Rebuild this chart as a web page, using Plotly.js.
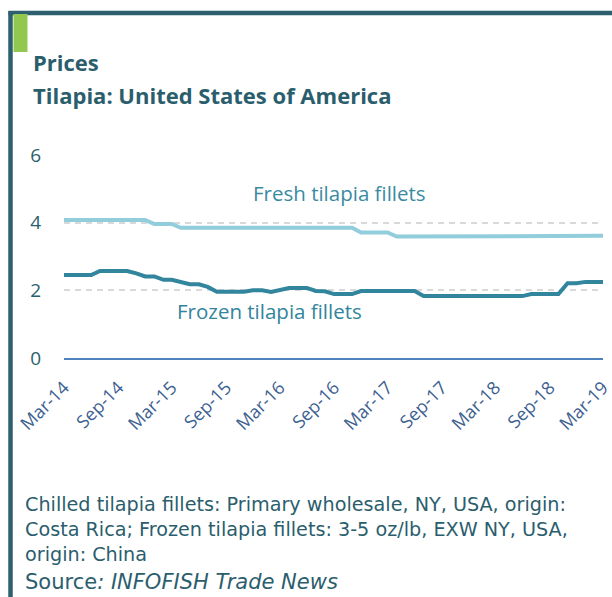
<!DOCTYPE html>
<html>
<head>
<meta charset="utf-8">
<script src="https://cdn.plot.ly/plotly-3.0.1.min.js"></script>
<style>html,body{margin:0;padding:0;background:#fff;}#chart{width:612px;height:597px;}</style>
</head>
<body>
<div id="chart"></div>
<script>
// ---- data ----
var months = [
 '2014-03-01','2014-04-01','2014-05-01','2014-06-01','2014-07-01','2014-08-01','2014-09-01','2014-10-01','2014-11-01','2014-12-01',
 '2015-01-01','2015-02-01','2015-03-01','2015-04-01','2015-05-01','2015-06-01','2015-07-01','2015-08-01','2015-09-01','2015-10-01',
 '2015-11-01','2015-12-01','2016-01-01','2016-02-01','2016-03-01','2016-04-01','2016-05-01','2016-06-01','2016-07-01','2016-08-01',
 '2016-09-01','2016-10-01','2016-11-01','2016-12-01','2017-01-01','2017-02-01','2017-03-01','2017-04-01','2017-05-01','2017-06-01',
 '2017-07-01','2017-08-01','2017-09-01','2017-10-01','2017-11-01','2017-12-01','2018-01-01','2018-02-01','2018-03-01','2018-04-01',
 '2018-05-01','2018-06-01','2018-07-01','2018-08-01','2018-09-01','2018-10-01','2018-11-01','2018-12-01','2019-01-01','2019-02-01',
 '2019-03-01'
];
var freshFillets = [
 4.08,4.08,4.08,4.08,4.08,4.08,4.08,4.08,4.08,4.08,
 3.96,3.96,3.96,3.85,3.85,3.85,3.85,3.85,3.85,3.85,
 3.85,3.85,3.85,3.85,3.85,3.85,3.85,3.85,3.85,3.85,
 3.85,3.85,3.85,3.71,3.71,3.71,3.71,3.59,3.59,3.59,
 3.59,3.59,3.59,3.59,3.59,3.61,3.61,3.61,3.61,3.61,
 3.61,3.61,3.61,3.61,3.61,3.61,3.61,3.61,3.61,3.61,
 3.61
];
var frozenFillets = [
 2.45,2.45,2.45,2.45,2.57,2.57,2.57,2.57,2.50,2.41,
 2.41,2.31,2.31,2.23,2.18,2.18,2.10,1.96,1.96,1.96,
 1.96,2.00,2.00,1.95,2.01,2.07,2.07,2.07,1.98,1.97,
 1.89,1.89,1.89,1.98,1.98,1.98,1.98,1.98,1.98,1.98,
 1.83,1.83,1.83,1.83,1.83,1.83,1.83,1.83,1.83,1.83,
 1.83,1.83,1.89,1.89,1.89,1.89,2.21,2.21,2.25,2.25,
 2.25
];
var tickDates = ['2014-03-01','2014-09-01','2015-03-01','2015-09-01','2016-03-01','2016-09-01','2017-03-01','2017-09-01','2018-03-01','2018-09-01','2019-03-01'];
var tickLabels = ['Mar-14','Sep-14','Mar-15','Sep-15','Mar-16','Sep-16','Mar-17','Sep-17','Mar-18','Sep-18','Mar-19'];
var yTicks = [0, 2, 4, 6];
var seriesNames = ['Fresh tilapia fillets', 'Frozen tilapia fillets'];
var titleLines = ['Prices', 'Tilapia: United States of America'];
var noteLines = [
 'Chilled tilapia fillets: Primary wholesale, NY, USA, origin:',
 'Costa Rica; Frozen tilapia fillets: 3-5 oz/lb, EXW NY, USA,',
 'origin: China'
];
var sourceText = 'Source<i>: INFOFISH Trade News</i>';

// ---- layout helpers (pixel -> paper) ----
var W = 612, H = 597, ML = 64, MR = 9, MT = 155, MB = 239;
var PW = W - ML - MR, PH = H - MT - MB;
function PX(x){ return (x - ML) / PW; }
function PY(y){ return 1 - (y - MT) / PH; }

var FONT = '"Open Sans", Lato, sans-serif';
var NOTE_FONT = '"DejaVu Sans", "Open Sans", sans-serif';
var TEAL_DARK = '#2b5e6d';

var traces = [
 {x: months, y: freshFillets, name: seriesNames[0], type: 'scatter', mode: 'lines',
  line: {color: '#92cddc', width: 4}, hoverinfo: 'x+y'},
 {x: months, y: frozenFillets, name: seriesNames[1], type: 'scatter', mode: 'lines',
  line: {color: '#31859c', width: 4}, hoverinfo: 'x+y'}
];

var annotations = [
 {xref: 'paper', yref: 'paper', x: PX(31), y: PY(62), xanchor: 'left', yanchor: 'middle', showarrow: false,
  text: '<b>' + titleLines[0] + '</b>', font: {family: FONT, size: 22, color: TEAL_DARK}},
 {xref: 'paper', yref: 'paper', x: PX(31), y: PY(95), xanchor: 'left', yanchor: 'middle', showarrow: false,
  text: '<b>' + titleLines[1] + '</b>', font: {family: FONT, size: 22, color: TEAL_DARK}},
 {xref: 'x', yref: 'y', x: '2016-09-20', y: 4.87, xanchor: 'center', yanchor: 'middle', showarrow: false,
  text: seriesNames[0], font: {family: FONT, size: 20.5, color: '#3a8ba1'}},
 {xref: 'x', yref: 'y', x: '2016-01-25', y: 1.39, xanchor: 'center', yanchor: 'middle', showarrow: false,
  text: seriesNames[1], font: {family: FONT, size: 20.5, color: '#31859c'}},
 {xref: 'paper', yref: 'paper', x: PX(23), y: PY(504), xanchor: 'left', yanchor: 'middle', showarrow: false,
  text: noteLines[0], font: {family: NOTE_FONT, size: 19.2, color: TEAL_DARK}},
 {xref: 'paper', yref: 'paper', x: PX(23), y: PY(529), xanchor: 'left', yanchor: 'middle', showarrow: false,
  text: noteLines[1], font: {family: NOTE_FONT, size: 19.2, color: TEAL_DARK}},
 {xref: 'paper', yref: 'paper', x: PX(23), y: PY(554), xanchor: 'left', yanchor: 'middle', showarrow: false,
  text: noteLines[2], font: {family: NOTE_FONT, size: 19.2, color: TEAL_DARK}},
 {xref: 'paper', yref: 'paper', x: PX(23), y: PY(582), xanchor: 'left', yanchor: 'middle', showarrow: false,
  text: sourceText, font: {family: NOTE_FONT, size: 21, color: TEAL_DARK}}
];

var shapes = [
 {type: 'line', xref: 'paper', yref: 'paper', x0: PX(8.5), x1: PX(614), y0: PY(13), y1: PY(13),
  line: {color: '#2d5f6e', width: 4.5}},
 {type: 'line', xref: 'paper', yref: 'paper', x0: PX(10.5), x1: PX(10.5), y0: PY(11), y1: PY(600),
  line: {color: '#2d5f6e', width: 4.5}},
 {type: 'rect', xref: 'paper', yref: 'paper', x0: PX(13.5), x1: PX(27.5), y0: PY(14), y1: PY(52),
  fillcolor: '#92c850', line: {width: 0}}
];

var layout = {
 width: W, height: H,
 margin: {l: ML, r: MR, t: MT, b: MB, pad: 0},
 paper_bgcolor: '#ffffff', plot_bgcolor: '#ffffff',
 showlegend: false,
 xaxis: {
  type: 'date', range: ['2014-03-01', '2019-03-01'],
  tickmode: 'array', tickvals: tickDates, ticktext: tickLabels, tickangle: -45,
  tickfont: {family: FONT, size: 18, color: '#3d6190'},
  showgrid: false, zeroline: false,
  showline: true, linecolor: '#4f81bd', linewidth: 2,
  ticks: '', ticklabelstandoff: 10, ticklabelshift: 0, ticklabeloverflow: 'allow', fixedrange: true
 },
 yaxis: {
  range: [0, 6], tickmode: 'array', tickvals: yTicks,
  tickfont: {family: FONT, size: 19, color: TEAL_DARK},
  showgrid: true, gridcolor: '#d9d9d9', gridwidth: 2, griddash: '6px,5px',
  zeroline: false, showline: false, ticks: '', ticklabelstandoff: 22, fixedrange: true
 },
 annotations: annotations,
 shapes: shapes
};

Plotly.newPlot('chart', traces, layout, {displayModeBar: false, staticPlot: true});
</script>
</body>
</html>
